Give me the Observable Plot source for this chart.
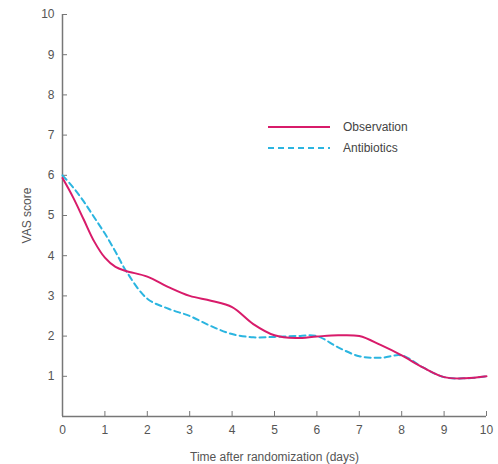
<!DOCTYPE html>
<html>
<head>
<meta charset="utf-8">
<script src="https://cdn.jsdelivr.net/npm/d3@7"></script>
<script src="https://cdn.jsdelivr.net/npm/@observablehq/plot@0.6"></script>
<style>
  html, body { margin: 0; padding: 0; background: #fff; }
  #wrap { position: relative; width: 498px; height: 464px; }
  #legend { position: absolute; left: 268px; top: 116px; font-family: "Liberation Sans", Arial, sans-serif; font-size: 12px; color: #444; }
  #legend .item { display: flex; align-items: center; height: 21px; }
  #legend svg { margin-right: 13px; }
</style>
</head>
<body>
<div id="wrap"><div id="legend"></div></div>
<script>
const days = [0, 0.25, 0.5, 0.75, 1, 1.25, 1.5, 2, 2.5, 3, 3.5, 4, 4.5, 5, 5.5, 6, 6.5, 7, 7.5, 8, 8.5, 9, 9.5, 10];
const observation = [5.93, 5.45, 4.9, 4.35, 3.95, 3.72, 3.62, 3.48, 3.22, 3.0, 2.88, 2.72, 2.3, 2.02, 1.95, 1.99, 2.02, 2.0, 1.78, 1.52, 1.22, 0.98, 0.95, 1.0];
const antibiotics = [6.0, 5.7, 5.35, 4.95, 4.55, 4.1, 3.62, 2.93, 2.68, 2.5, 2.25, 2.05, 1.97, 1.98, 2.0, 2.0, 1.72, 1.5, 1.46, 1.52, 1.22, 0.98, 0.95, 1.0];
const seriesNames = ["Observation", "Antibiotics"];
const xTicks = [0, 1, 2, 3, 4, 5, 6, 7, 8, 9, 10];
const yTicks = [1, 2, 3, 4, 5, 6, 7, 8, 9, 10];

const colors = {Observation: "#d81b6a", Antibiotics: "#2bb5e0"};
const dashes = {Observation: null, Antibiotics: "6,4"};

const obsData = days.map((d, i) => ({day: d, vas: observation[i]}));
const abxData = days.map((d, i) => ({day: d, vas: antibiotics[i]}));

const chart = Plot.plot({
  width: 498,
  height: 464,
  marginLeft: 62,
  marginRight: 12,
  marginTop: 14,
  marginBottom: 48,
  x: {domain: [0, 10]},
  y: {domain: [0, 10]},
  style: {fontFamily: "Liberation Sans, Arial, sans-serif", fontSize: "12px", color: "#555", background: "#fff"},
  marks: [
    Plot.axisX({ticks: xTicks, tickSize: -5, tickPadding: 14, stroke: "#777", label: "Time after randomization (days)", labelAnchor: "center", labelOffset: 44, labelArrow: "none", tickFormat: d => d}),
    Plot.axisY({ticks: yTicks, tickSize: -5, tickPadding: 13, stroke: "#777", label: "VAS score", labelAnchor: "center", labelOffset: 40, labelArrow: "none", tickFormat: d => d}),
    Plot.ruleY([0], {stroke: "#777", strokeWidth: 1.5}),
    Plot.ruleX([0], {stroke: "#777", strokeWidth: 1.5}),
    Plot.line(abxData, {x: "day", y: "vas", stroke: colors.Antibiotics, strokeWidth: 2, strokeDasharray: dashes.Antibiotics, curve: "catmull-rom"}),
    Plot.line(obsData, {x: "day", y: "vas", stroke: colors.Observation, strokeWidth: 2, curve: "catmull-rom"})
  ]
});
document.getElementById("wrap").prepend(chart);

const legend = document.getElementById("legend");
for (const name of seriesNames) {
  const item = document.createElement("div");
  item.className = "item";
  item.innerHTML = `<svg width="62" height="4"><line x1="0" x2="62" y1="2" y2="2" stroke="${colors[name]}" stroke-width="2" ${dashes[name] ? `stroke-dasharray="${dashes[name]}"` : ""}/></svg><span>${name}</span>`;
  legend.appendChild(item);
}
</script>
</body>
</html>
